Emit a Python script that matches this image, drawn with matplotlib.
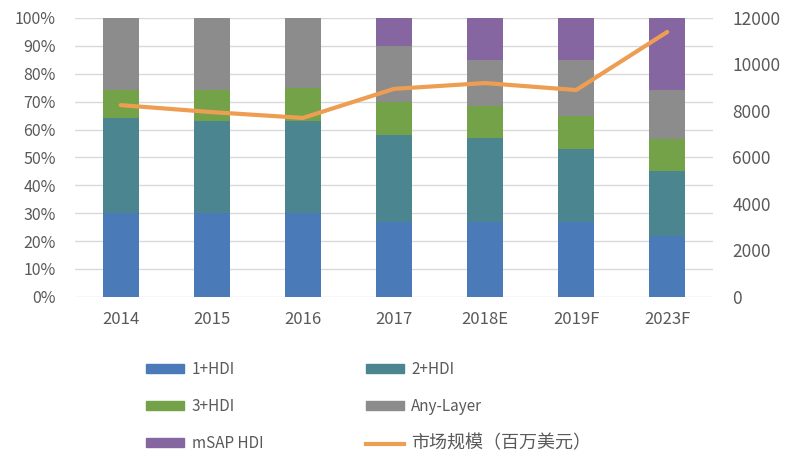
import matplotlib.pyplot as plt
from matplotlib.patches import Patch
from matplotlib.lines import Line2D
import numpy as np

plt.rcParams['font.family'] = ['Noto Sans CJK SC', 'DejaVu Sans']

years = ['2014', '2015', '2016', '2017', '2018E', '2019F', '2023F']
hdi1 = [30, 30, 30, 27, 27, 27, 22]
hdi2 = [34, 33, 33, 31, 30, 26, 23]
hdi3 = [10, 11, 12, 12, 11.5, 12, 11.5]
anylayer = [26, 26, 25, 20, 16.5, 20, 17.5]
msap = [0, 0, 0, 10, 15, 15, 26]
market = [8250, 7950, 7700, 8950, 9200, 8900, 11400]

series = [hdi1, hdi2, hdi3, anylayer, msap]
names = ['1+HDI', '2+HDI', '3+HDI', 'Any-Layer', 'mSAP HDI']
colors = ['#4a7ab8', '#4b8590', '#74a248', '#8c8c8c', '#8566a0']
line_color = '#ee9e52'
txt = '#595959'

fig = plt.figure(figsize=(8, 4.61), dpi=100)
ax = fig.add_axes([0.094, 0.356, 0.797, 0.605])
x = np.arange(len(years))
bottom = np.zeros(len(years))
for vals, c in zip(series, colors):
    ax.bar(x, vals, 0.4, bottom=bottom, color=c, zorder=2)
    bottom += np.array(vals)

ax.set_xlim(-0.5, len(years) - 0.5)
ax.set_ylim(0, 100)
ax.set_yticks(range(0, 101, 10))
ax.set_yticklabels([f'{v}%' for v in range(0, 101, 10)])
ax.set_xticks(x)
ax.set_xticklabels(years)
ax.grid(axis='y', color='#d9d9d9', lw=1, zorder=0)
for s in ax.spines.values():
    s.set_visible(False)
ax.tick_params(length=0, colors=txt)
ax.tick_params(axis='x', pad=10, labelsize=12)
ax.tick_params(axis='y', pad=14, labelsize=11.5)

ax2 = ax.twinx()
ax2.plot(x, market, color=line_color, lw=3, solid_capstyle='round', zorder=3)
ax2.set_ylim(0, 12000)
ax2.set_yticks(range(0, 12001, 2000))
for s in ax2.spines.values():
    s.set_visible(False)
ax2.tick_params(length=0, colors=txt, labelsize=12.5, pad=14)

handles = [Patch(color=colors[0]), Patch(color=colors[2]), Patch(color=colors[4]),
           Patch(color=colors[1]), Patch(color=colors[3]),
           Line2D([], [], color=line_color, lw=3)]
labels = [names[0], names[2], names[4], names[1], names[3], '市场规模（百万美元）']
leg = fig.legend(handles, labels, ncol=2, loc='upper left', bbox_to_anchor=(0.165, 0.247),
                 frameon=False, fontsize=11, handlelength=2.5, handleheight=0.55,
                 handletextpad=0.5, columnspacing=6.7, labelspacing=1.3)
for t in leg.get_texts():
    t.set_color(txt)
leg.get_texts()[-1].set_fontsize(13)

fig.savefig('out.png', dpi=100)
